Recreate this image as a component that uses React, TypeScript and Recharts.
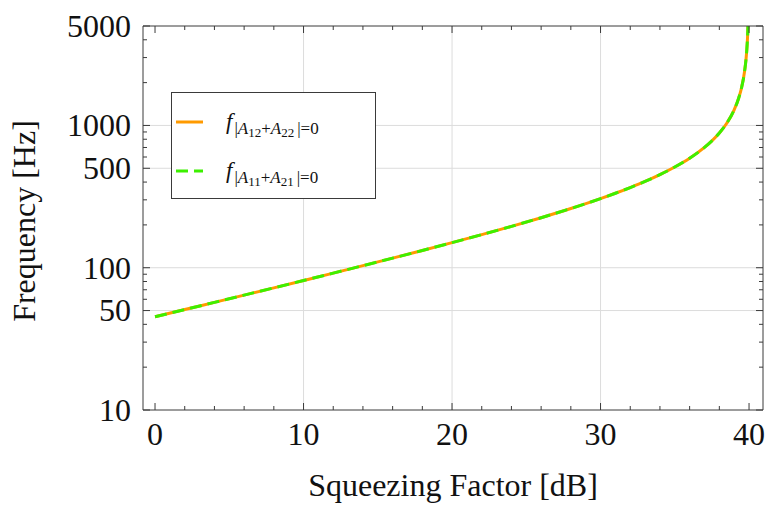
import React from "react";
import {
  LineChart,
  Line,
  XAxis,
  YAxis,
  ReferenceLine,
  Legend,
} from "recharts";

// squeezing factor [dB] and the two zero-condition frequencies [Hz]
const squeezing = [
  0, 2, 4, 6, 8, 10, 12, 14, 16, 18, 20, 22, 24, 26, 28, 30, 31, 32, 33, 34, 35,
  36, 37, 37.5, 38, 38.5, 39, 39.3, 39.5, 39.7, 39.8, 39.85, 39.9, 39.93,
];
const freqA12A22 = [
  45.2, 50.8, 57.1, 64.2, 72.2, 81.3, 91.6, 103.4, 116.8, 132.2, 150, 170.8,
  195.2, 224.7, 260.6, 305.9, 333.8, 366, 404, 451, 510, 588, 701, 779, 884,
  1037, 1288, 1554, 1849, 2402, 2945, 3410, 4183, 5000,
];
const freqA11A21 = [
  45.2, 50.8, 57.1, 64.2, 72.2, 81.3, 91.6, 103.4, 116.8, 132.2, 150, 170.8,
  195.2, 224.7, 260.6, 305.9, 333.8, 366, 404, 451, 510, 588, 701, 779, 884,
  1037, 1288, 1554, 1849, 2402, 2945, 3410, 4183, 5000,
];

const xTicks = [0, 2, 4, 6, 8, 10, 12, 14, 16, 18, 20, 22, 24, 26, 28, 30, 32, 34, 36, 38, 40];
const xMajor = [0, 10, 20, 30, 40];
const yTicks = [
  10, 20, 30, 40, 50, 60, 70, 80, 90, 100, 200, 300, 400, 500, 600, 700, 800,
  900, 1000, 2000, 3000, 4000, 5000,
];
const yMajor = [10, 50, 100, 500, 1000, 5000];
const xGrid = [10, 20, 30];
const yGrid = [50, 100, 500, 1000];

const data = squeezing.map((s, i) => ({
  s,
  a12: freqA12A22[i],
  a11: freqA11A21[i],
}));

const FONT = "'Liberation Serif', 'Times New Roman', serif";
const FRAME = "#3a3a3a";
const ORANGE = "#ff9a00";
const GREEN = "#3cf000";

const BottomTick = (props: any) => {
  const { x, y, payload } = props;
  const major = xMajor.includes(payload.value);
  return (
    <g>
      <line x1={x} x2={x} y1={y} y2={y - (major ? 7 : 4)} stroke={FRAME} />
      {major && (
        <text x={x} y={y + 35} textAnchor="middle" fontSize={32} fontFamily={FONT} fill="#111">
          {payload.value}
        </text>
      )}
    </g>
  );
};

const TopTick = (props: any) => {
  const { x, y, payload } = props;
  const major = xMajor.includes(payload.value);
  return <line x1={x} x2={x} y1={y} y2={y + (major ? 7 : 4)} stroke={FRAME} />;
};

const LeftTick = (props: any) => {
  const { x, y, payload } = props;
  const major = yMajor.includes(payload.value);
  return (
    <g>
      <line x1={x} x2={x + (major ? 7 : 4)} y1={y} y2={y} stroke={FRAME} />
      {major && (
        <text x={x - 12} y={y} dy="0.34em" textAnchor="end" fontSize={32} fontFamily={FONT} fill="#111">
          {payload.value}
        </text>
      )}
    </g>
  );
};

const RightTick = (props: any) => {
  const { x, y, payload } = props;
  const major = yMajor.includes(payload.value);
  return <line x1={x} x2={x - (major ? 7 : 4)} y1={y} y2={y} stroke={FRAME} />;
};

const LegendLabel = ({ y, a, b }: { y: number; a: string; b: string }) => (
  <text x={54} y={y} fontFamily={FONT} fill="#111">
    <tspan fontSize={23} fontStyle="italic">f</tspan>
    <tspan fontSize={17} dx={2} dy={4.5}>|</tspan>
    <tspan fontSize={17} fontStyle="italic">A</tspan>
    <tspan fontSize={13} dy={3}>{a}</tspan>
    <tspan fontSize={17} dy={-3}>+</tspan>
    <tspan fontSize={17} fontStyle="italic">A</tspan>
    <tspan fontSize={13} dy={3}>{b}</tspan>
    <tspan fontSize={17} dx={3} dy={-3}>|=0</tspan>
  </text>
);

const LegendBox = () => (
  <div
    style={{
      width: 205,
      height: 107,
      boxSizing: "border-box",
      border: `1px solid ${FRAME}`,
      background: "#fff",
    }}
  >
    <svg width={203} height={105} style={{ display: "block" }}>
      <line x1={4} x2={31} y1={29} y2={29} stroke={ORANGE} strokeWidth={3} />
      <LegendLabel y={36} a="12" b="22" />
      <line x1={4} x2={31} y1={78} y2={78} stroke={GREEN} strokeWidth={3} strokeDasharray="12 6" />
      <LegendLabel y={85} a="11" b="21" />
    </svg>
  </div>
);

export default function App() {
  return (
    <div style={{ position: "absolute", left: 0, top: 0, background: "#fff" }}>
      <LineChart
        width={767}
        height={509}
        data={data}
        margin={{ top: 25, right: 3, bottom: 0, left: 0 }}
      >
        <XAxis
          dataKey="s"
          type="number"
          domain={[-0.81, 40.94]}
          ticks={xTicks}
          interval={0}
          height={99}
          tickSize={0}
          tickMargin={0}
          stroke={FRAME}
          tick={<BottomTick />}
          allowDataOverflow
          label={{
            content: () => (
              <text x={453} y={496} textAnchor="middle" fontSize={32} fontFamily={FONT} fill="#111">
                Squeezing Factor [dB]
              </text>
            ),
          }}
        />
        <XAxis
          xAxisId="top"
          dataKey="s"
          type="number"
          orientation="top"
          domain={[-0.81, 40.94]}
          ticks={xTicks}
          interval={0}
          height={1}
          tickSize={0}
          tickMargin={0}
          stroke={FRAME}
          tick={<TopTick />}
          allowDataOverflow
        />
        <YAxis
          type="number"
          scale="log"
          domain={[10, 5000]}
          ticks={yTicks}
          interval={0}
          width={143}
          tickSize={0}
          tickMargin={0}
          stroke={FRAME}
          tick={<LeftTick />}
          allowDataOverflow
          label={{
            content: () => (
              <text
                x={35}
                y={221}
                transform="rotate(-90 35 221)"
                textAnchor="middle"
                fontSize={32}
                fontFamily={FONT}
                fill="#111"
              >
                Frequency [Hz]
              </text>
            ),
          }}
        />
        <YAxis
          yAxisId="right"
          orientation="right"
          type="number"
          scale="log"
          domain={[10, 5000]}
          ticks={yTicks}
          interval={0}
          width={1}
          tickSize={0}
          tickMargin={0}
          stroke={FRAME}
          tick={<RightTick />}
          allowDataOverflow
        />
        {xGrid.map((v) => (
          <ReferenceLine key={`x${v}`} x={v} stroke="#dcdcdc" strokeWidth={1} />
        ))}
        {yGrid.map((v) => (
          <ReferenceLine key={`y${v}`} y={v} stroke="#dcdcdc" strokeWidth={1} />
        ))}
        <Legend
          layout="vertical"
          align="center"
          verticalAlign="middle"
          wrapperStyle={{ left: 171, top: 92, width: 205, height: 107 }}
          content={() => <LegendBox />}
        />
        <Line
          type="monotone"
          dataKey="a12"
          stroke={ORANGE}
          strokeWidth={3}
          dot={false}
          isAnimationActive={false}
        />
        <Line
          type="monotone"
          dataKey="a11"
          stroke={GREEN}
          strokeWidth={3}
          strokeDasharray="12 6"
          dot={false}
          isAnimationActive={false}
        />
      </LineChart>
    </div>
  );
}
